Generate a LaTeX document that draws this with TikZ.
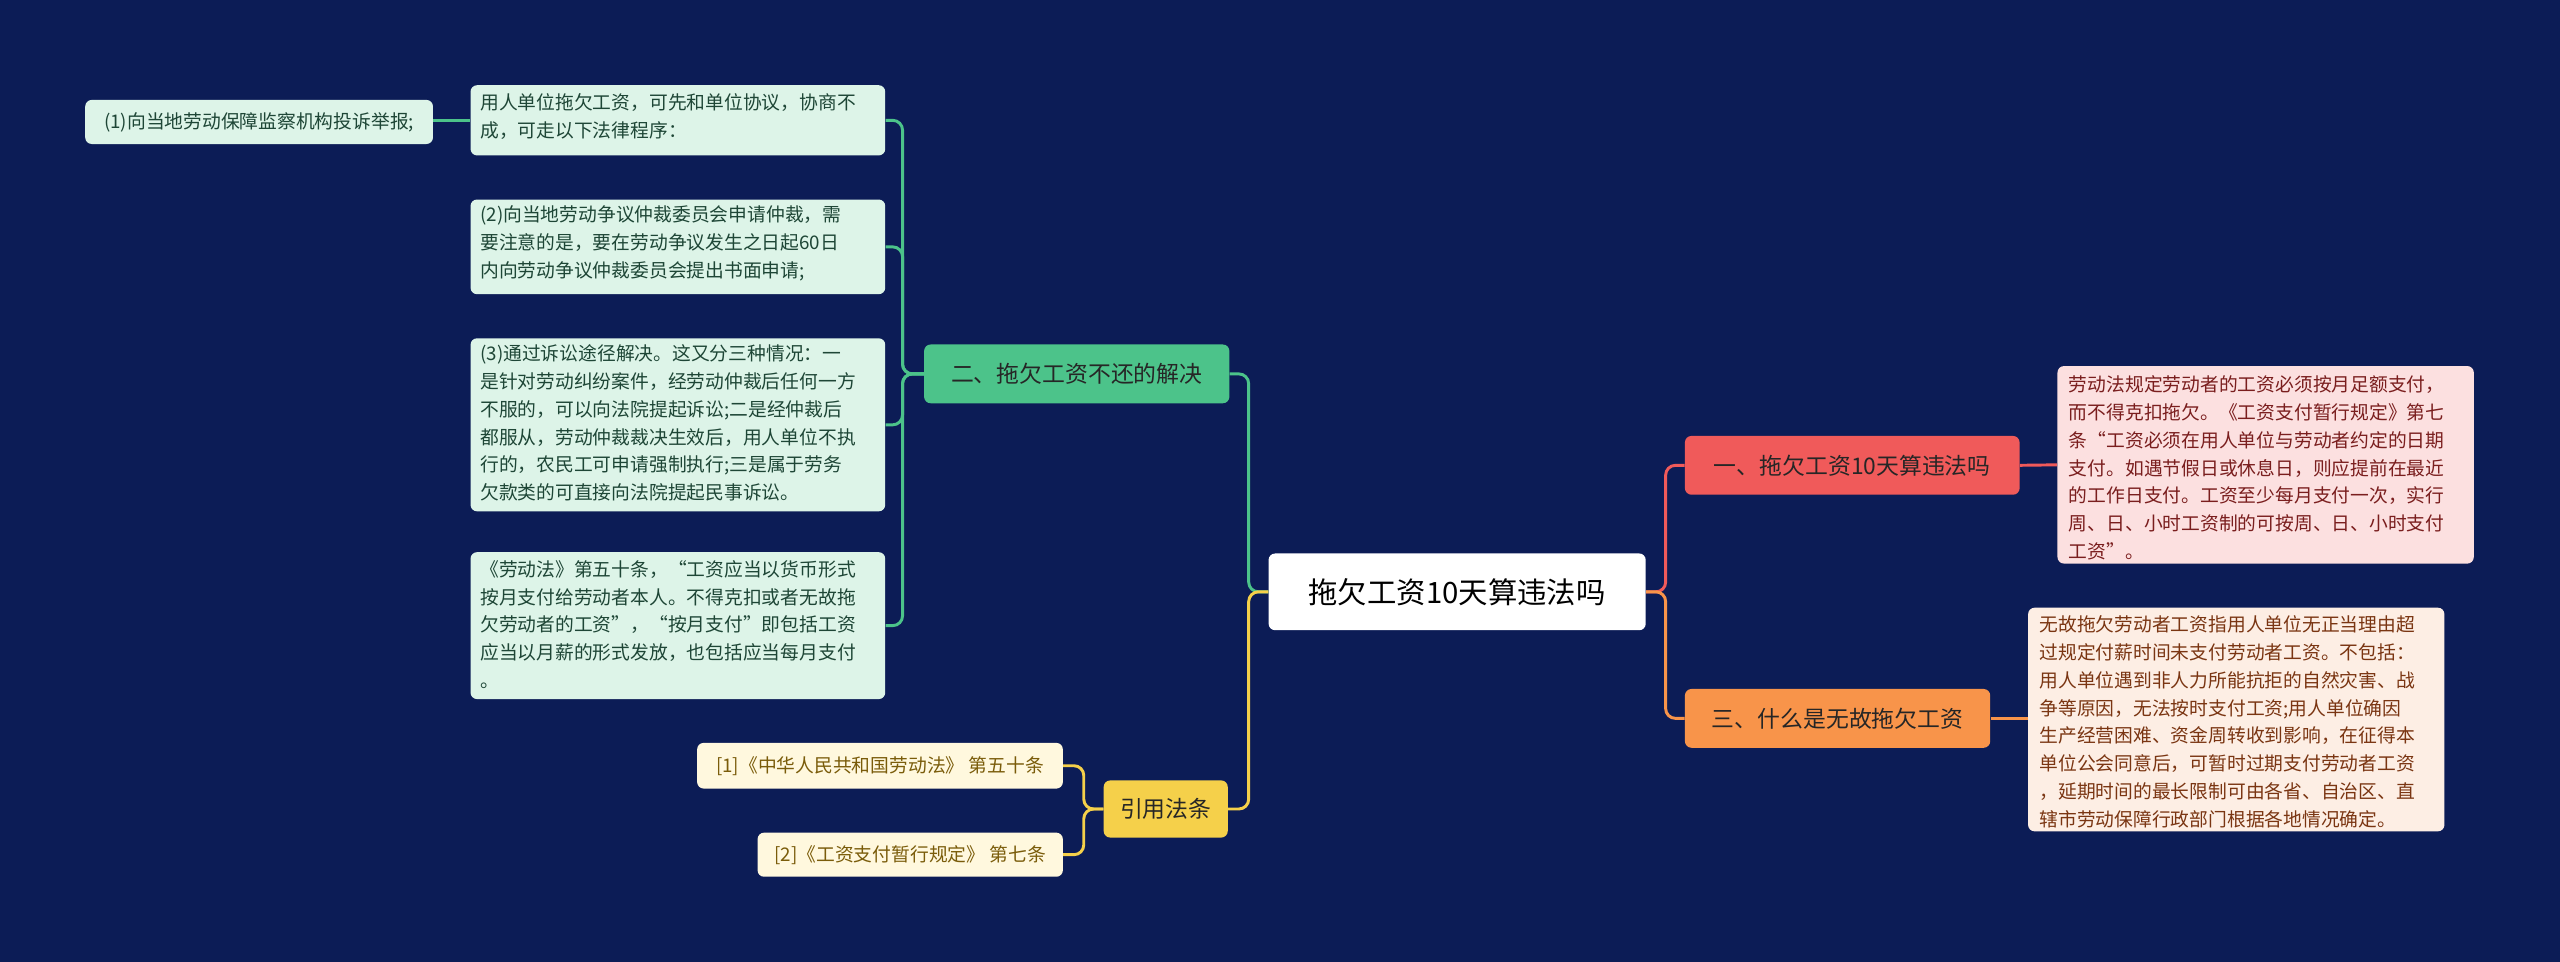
\documentclass[tikz,border=0pt]{standalone}
\usepackage{fontspec}
\setmainfont{Noto Sans CJK SC}
\usetikzlibrary{calc}
\definecolor{bg}{HTML}{0C1C56}
\definecolor{gline}{HTML}{4CC38A}
\definecolor{gfill}{HTML}{DDF4E8}
\definecolor{gtext}{HTML}{1E4636}
\definecolor{rline}{HTML}{F05A5A}
\definecolor{rfill}{HTML}{FCE0E0}
\definecolor{rtext}{HTML}{7A1E1E}
\definecolor{oline}{HTML}{F8944A}
\definecolor{ofill}{HTML}{FDEEE4}
\definecolor{otext}{HTML}{7A3512}
\definecolor{yline}{HTML}{F5D04A}
\definecolor{yfill}{HTML}{FFF8DE}
\definecolor{ytext}{HTML}{7A5C0A}
\begin{document}
\begin{tikzpicture}[x=1pt,y=-1pt,
  box/.style={rounded corners=4pt,inner sep=0pt,align=left,anchor=north west},
  leaf/.style={box,font=\fontsize{11.5}{17}\selectfont},
  br/.style={box,align=center,anchor=center,font=\fontsize{14}{16}\selectfont},
  con/.style={line width=1.8pt,rounded corners=6pt}]
\fill[bg] (0,0) rectangle (1568,589);
\useasboundingbox (0,0) rectangle (1568,589);
% root
\node[br,fill=white,minimum width=231pt,minimum height=47pt,font=\fontsize{18}{20}\selectfont,text=black] (root) at (892.5,362.5) {拖欠工资10天算违法吗};
% branch 1
\node[br,fill=rline,minimum width=205pt,minimum height=36pt,text=black!85] (b1) at (1134.5,285) {一、拖欠工资10天算违法吗};
\node[leaf,fill=rfill,text=rtext,minimum width=255pt,minimum height=121pt] (l1) at (1260,224) {};
\node[anchor=north west,inner sep=0pt,align=left,font=\fontsize{11.5}{17}\selectfont,text=rtext] at (1267,230) {劳动法规定劳动者的工资必须按月足额支付，\\而不得克扣拖欠。《工资支付暂行规定》第七\\条“工资必须在用人单位与劳动者约定的日期\\支付。如遇节假日或休息日，则应提前在最近\\的工作日支付。工资至少每月支付一次，实行\\周、日、小时工资制的可按周、日、小时支付\\工资”。};
% branch 3
\node[br,fill=oline,minimum width=187pt,minimum height=36pt,text=black!85] (b3) at (1125.5,440) {三、什么是无故拖欠工资};
\node[leaf,fill=ofill,minimum width=255pt,minimum height=137pt] (l3) at (1242,372) {};
\node[anchor=north west,inner sep=0pt,align=left,font=\fontsize{11.5}{17}\selectfont,text=otext] at (1249,377) {无故拖欠劳动者工资指用人单位无正当理由超\\过规定付薪时间未支付劳动者工资。不包括：\\用人单位遇到非人力所能抗拒的自然灾害、战\\争等原因，无法按时支付工资;用人单位确因\\生产经营困难、资金周转收到影响，在征得本\\单位公会同意后，可暂时过期支付劳动者工资\\，延期时间的最长限制可由各省、自治区、直\\辖市劳动保障行政部门根据各地情况确定。};
% branch 2
\node[br,fill=gline,minimum width=187pt,minimum height=36pt,text=black!85] (b2) at (659.5,229) {二、拖欠工资不还的解决};
\node[leaf,fill=gfill,minimum width=254pt,minimum height=43pt] (c1) at (288,52) {};
\node[anchor=north west,inner sep=0pt,align=left,font=\fontsize{11.5}{17}\selectfont,text=gtext] at (294,57) {用人单位拖欠工资，可先和单位协议，协商不\\成，可走以下法律程序：};
\node[leaf,fill=gfill,minimum width=213pt,minimum height=27pt] (c0) at (52,61) {};
\node[font=\fontsize{11.5}{17}\selectfont,text=gtext,inner sep=0pt] at (c0.center) {(1)向当地劳动保障监察机构投诉举报;};
\node[leaf,fill=gfill,minimum width=254pt,minimum height=58pt] (c2) at (288,122) {};
\node[anchor=north west,inner sep=0pt,align=left,font=\fontsize{11.5}{17}\selectfont,text=gtext] at (294,126) {(2)向当地劳动争议仲裁委员会申请仲裁，需\\要注意的是，要在劳动争议发生之日起60日\\内向劳动争议仲裁委员会提出书面申请;};
\node[leaf,fill=gfill,minimum width=254pt,minimum height=106pt] (c3) at (288,207) {};
\node[anchor=north west,inner sep=0pt,align=left,font=\fontsize{11.5}{17}\selectfont,text=gtext] at (294,211) {(3)通过诉讼途径解决。这又分三种情况：一\\是针对劳动纠纷案件，经劳动仲裁后任何一方\\不服的，可以向法院提起诉讼;二是经仲裁后\\都服从，劳动仲裁裁决生效后，用人单位不执\\行的，农民工可申请强制执行;三是属于劳务\\欠款类的可直接向法院提起民事诉讼。};
\node[leaf,fill=gfill,minimum width=254pt,minimum height=90pt] (c4) at (288,338) {};
\node[anchor=north west,inner sep=0pt,align=left,font=\fontsize{11.5}{17}\selectfont,text=gtext] at (294,343) {《劳动法》第五十条，“工资应当以货币形式\\按月支付给劳动者本人。不得克扣或者无故拖\\欠劳动者的工资”，“按月支付”即包括工资\\应当以月薪的形式发放，也包括应当每月支付\\。};
% references
\node[br,fill=yline,minimum width=76pt,minimum height=35pt,text=black!85] (ref) at (714,495.5) {引用法条};
\node[br,fill=yfill,text=ytext,minimum width=224pt,minimum height=28pt,font=\fontsize{11.5}{17}\selectfont] (r1) at (539,469) {[1]《中华人民共和国劳动法》 第五十条};
\node[br,fill=yfill,text=ytext,minimum width=187pt,minimum height=27pt,font=\fontsize{11.5}{17}\selectfont] (r2) at (557.5,523.5) {[2]《工资支付暂行规定》 第七条};
% connectors
\draw[con,rline] (root.east) -- ++(12,0) |- (b1.west);
\draw[con,oline] (root.east) -- ++(12,0) |- (b3.west);
\draw[con,gline] (root.west) -- ++(-12,0) |- (b2.east);
\draw[con,yline] (root.west) -- ++(-12,0) |- (ref.east);
\draw[con,rline] (b1.east) -- (l1.west);
\draw[con,oline] (b3.east) -- (b3.east -| l3.west);
\foreach \c in {c1,c2,c3,c4} \draw[con,gline] (b2.west) -- ++(-13,0) |- (\c.east);
\draw[con,gline] (c1.west) -- (c1.west -| c0.east);
\draw[con,yline] (ref.west) -- ++(-12,0) |- (r1.east);
\draw[con,yline] (ref.west) -- ++(-12,0) |- (r2.east);
\end{tikzpicture}
\end{document}
